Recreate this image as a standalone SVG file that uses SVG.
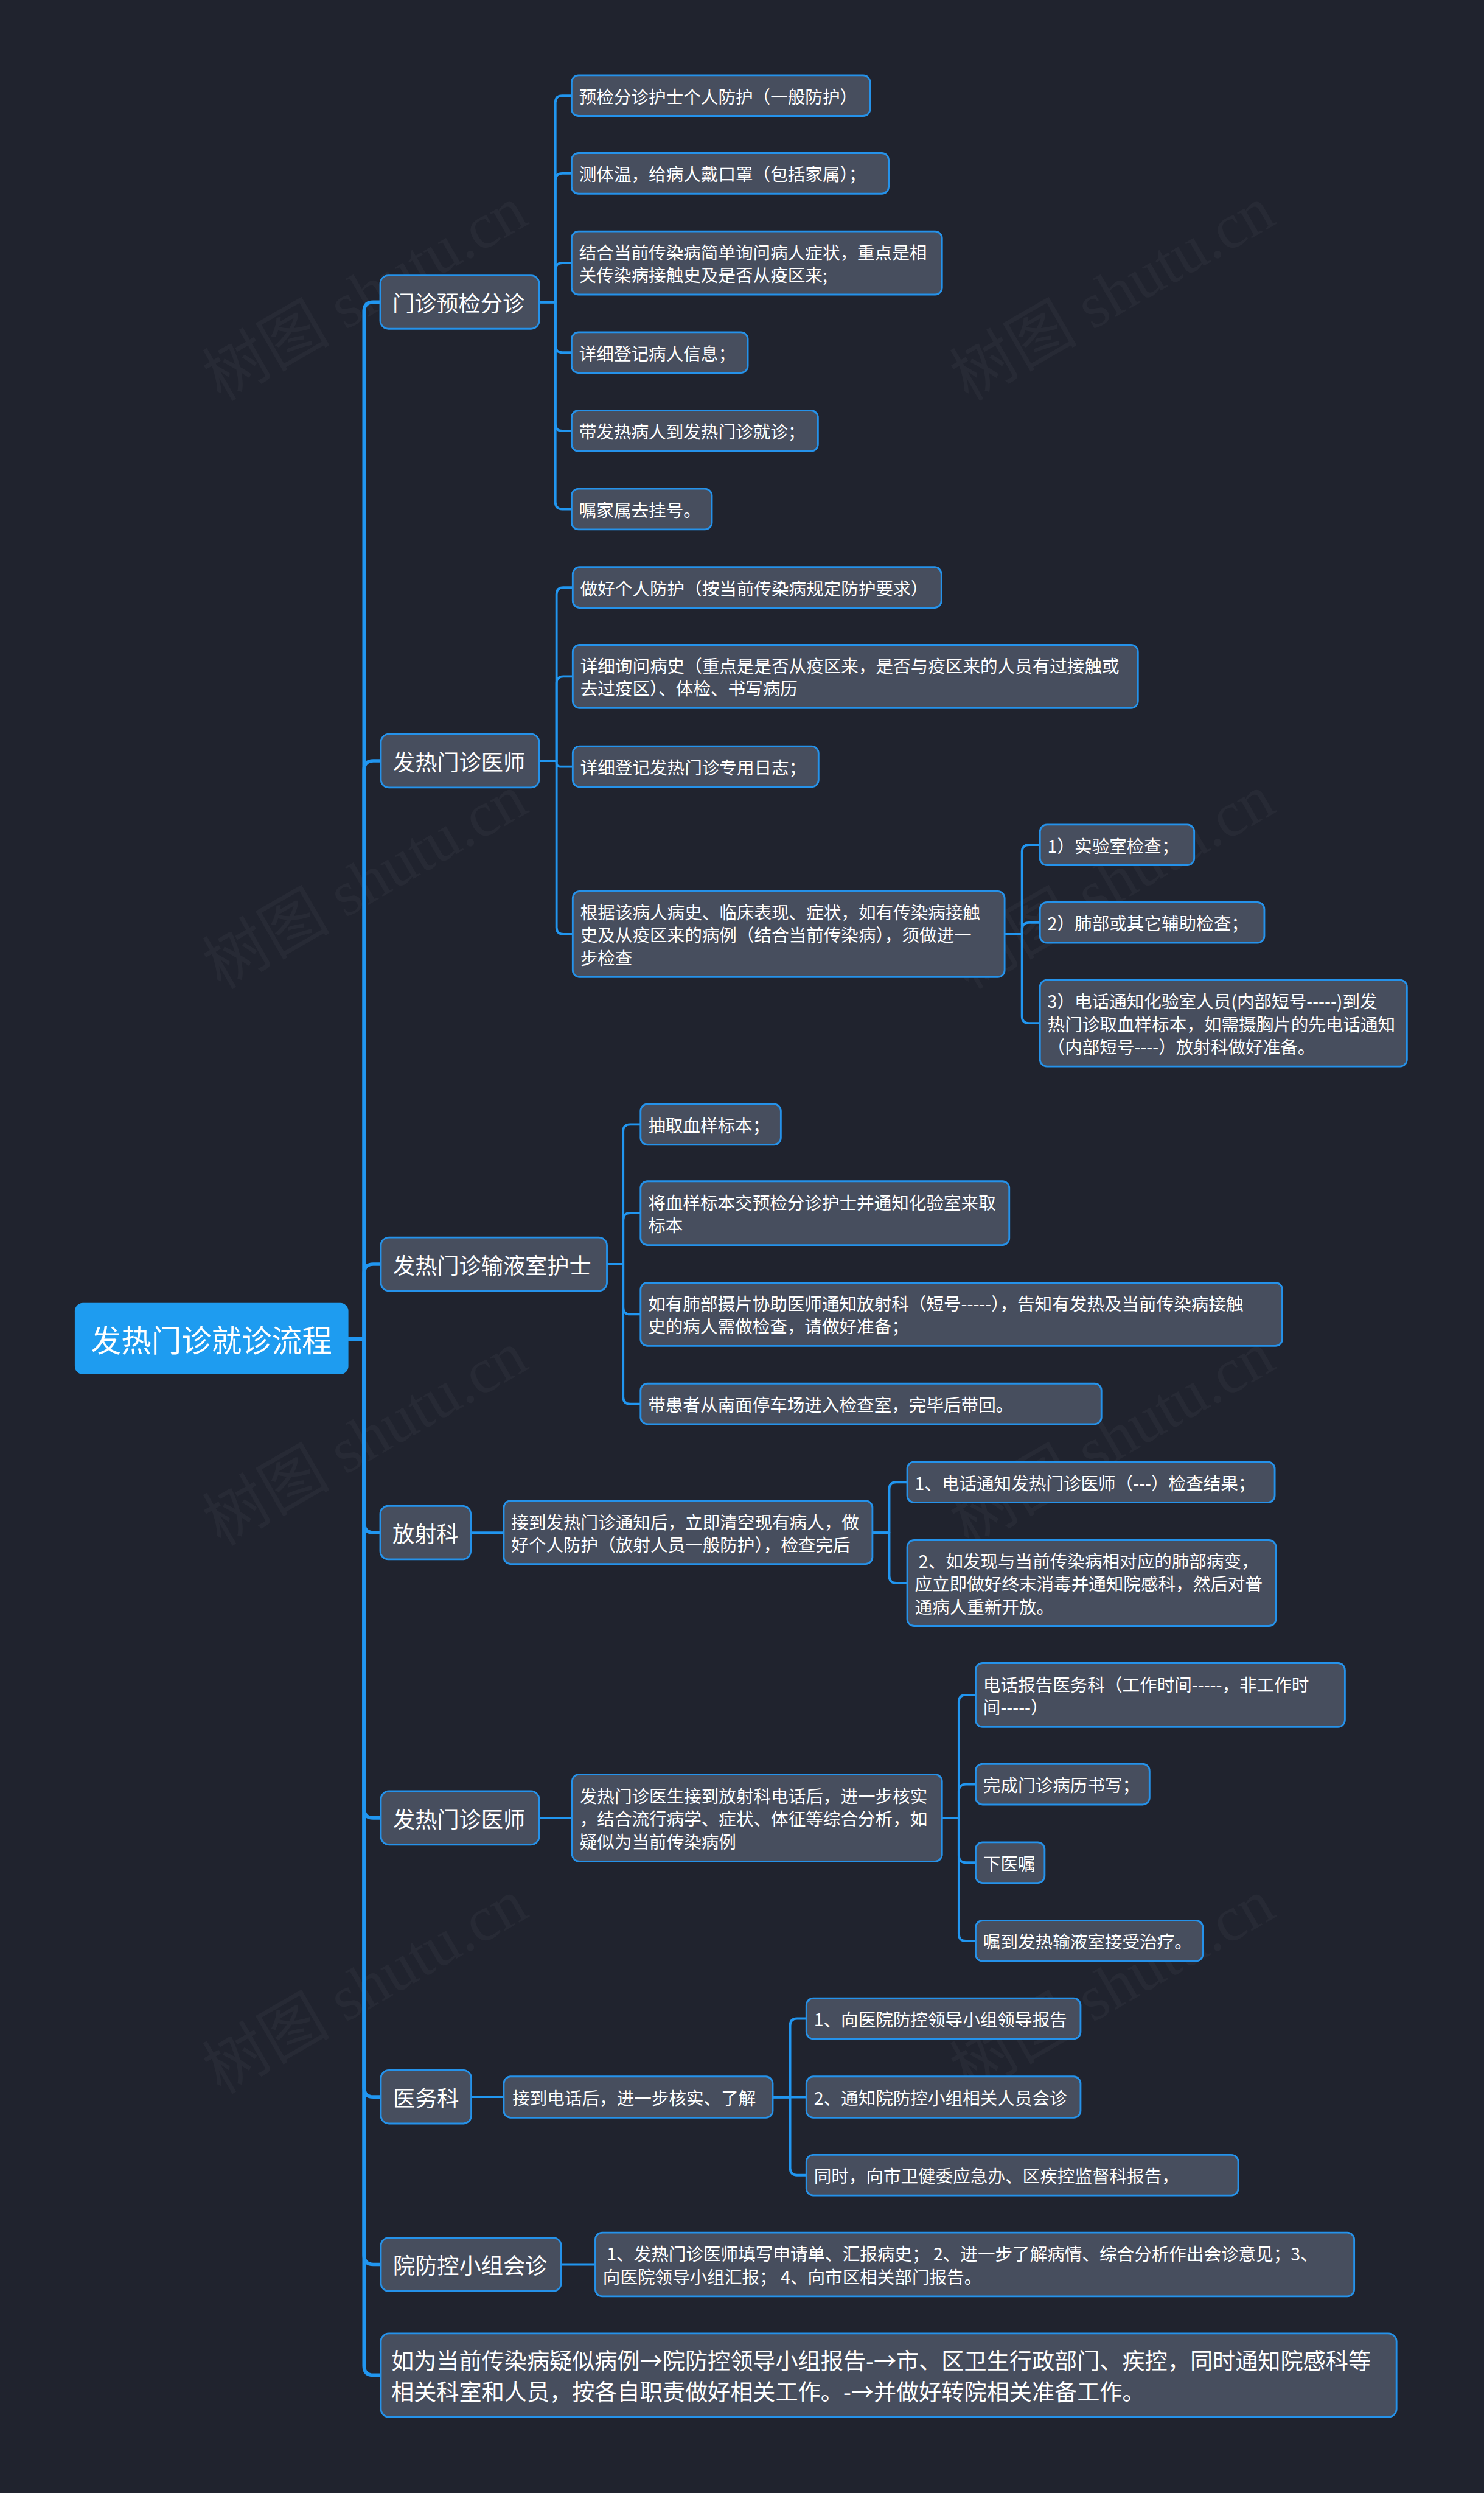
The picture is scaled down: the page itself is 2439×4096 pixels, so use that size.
<svg xmlns="http://www.w3.org/2000/svg" width="2439" height="4096" viewBox="0 0 2439 4096">
<style>
text{font-family:"Noto Sans CJK SC","Noto Sans",sans-serif;fill:#ffffff;dominant-baseline:central}
.nd rect{fill:#474e5e;stroke:#2592ea;stroke-width:3}
.t1{font-size:38px}
.t2{font-size:30px}
.root rect{fill:#1e9cf0}
.c0{fill:none;stroke:#2196f0;stroke-width:6;stroke-linejoin:round}
.c1{fill:none;stroke:#2196f0;stroke-width:4;stroke-linejoin:round}
.wm{font-family:"Liberation Serif","Noto Sans CJK SC",serif;font-size:110px;fill:#ffffff;fill-opacity:0.035;text-anchor:middle}
</style>
<rect x="0" y="0" width="2439" height="4096" fill="#20232e"/>
<g transform="scale(0.95275)">
<g id="watermarks">
<text class="wm" transform="translate(630,507) rotate(-30)">树图 shutu.cn</text>
<text class="wm" transform="translate(1919,507) rotate(-30)">树图 shutu.cn</text>
<text class="wm" transform="translate(630,1521) rotate(-30)">树图 shutu.cn</text>
<text class="wm" transform="translate(1919,1521) rotate(-30)">树图 shutu.cn</text>
<text class="wm" transform="translate(630,2481) rotate(-30)">树图 shutu.cn</text>
<text class="wm" transform="translate(1919,2481) rotate(-30)">树图 shutu.cn</text>
<text class="wm" transform="translate(630,3426) rotate(-30)">树图 shutu.cn</text>
<text class="wm" transform="translate(1919,3426) rotate(-30)">树图 shutu.cn</text>
</g>
<g id="connectors">
<path class="c0" d="M601 2309 H628 V537 Q628 521 644 521 H656"/>
<path class="c0" d="M601 2309 H628 V1328 Q628 1312 644 1312 H657"/>
<path class="c0" d="M601 2309 H628 V2196 Q628 2180 644 2180 H657"/>
<path class="c0" d="M601 2309 H628 V2627 Q628 2643 644 2643 H656"/>
<path class="c0" d="M601 2309 H628 V3119 Q628 3135 644 3135 H657"/>
<path class="c0" d="M601 2309 H628 V3600 Q628 3616 644 3616 H657"/>
<path class="c0" d="M601 2309 H628 V3889 Q628 3905 644 3905 H657"/>
<path class="c0" d="M601 2309 H628 V4080 Q628 4096 644 4096 H657"/>
<path class="c1" d="M930 521 H958 V177 Q958 165 970 165 H986"/>
<path class="c1" d="M930 521 H958 V311 Q958 299 970 299 H986"/>
<path class="c1" d="M930 521 H958 V465.5 Q958 453.5 970 453.5 H986"/>
<path class="c1" d="M930 521 H958 V596 Q958 608 970 608 H986"/>
<path class="c1" d="M930 521 H958 V731 Q958 743 970 743 H986"/>
<path class="c1" d="M930 521 H958 V866 Q958 878 970 878 H986"/>
<path class="c1" d="M930 1312 H960 V1025 Q960 1013 972 1013 H988"/>
<path class="c1" d="M930 1312 H960 V1178.5 Q960 1166.5 972 1166.5 H988"/>
<path class="c1" d="M930 1312 H960 V1316 Q960 1322 966 1322 H988"/>
<path class="c1" d="M930 1312 H960 V1599 Q960 1611 972 1611 H988"/>
<path class="c1" d="M1733 1611 H1763 V1469 Q1763 1457 1775 1457 H1794"/>
<path class="c1" d="M1733 1611 H1763 V1603 Q1763 1591 1775 1591 H1794"/>
<path class="c1" d="M1733 1611 H1763 V1752.5 Q1763 1764.5 1775 1764.5 H1794"/>
<path class="c1" d="M1047 2180 H1075 V1951 Q1075 1939 1087 1939 H1105"/>
<path class="c1" d="M1047 2180 H1075 V2104 Q1075 2092 1087 2092 H1105"/>
<path class="c1" d="M1047 2180 H1075 V2254.5 Q1075 2266.5 1087 2266.5 H1105"/>
<path class="c1" d="M1047 2180 H1075 V2409 Q1075 2421 1087 2421 H1105"/>
<path class="c1" d="M812 2643 H869"/>
<path class="c1" d="M1505 2643 H1534 V2568 Q1534 2556 1546 2556 H1565"/>
<path class="c1" d="M1505 2643 H1534 V2718 Q1534 2730 1546 2730 H1565"/>
<path class="c1" d="M930 3135 H987"/>
<path class="c1" d="M1625 3135 H1654 V2935 Q1654 2923 1666 2923 H1683"/>
<path class="c1" d="M1625 3135 H1654 V3089 Q1654 3077 1666 3077 H1683"/>
<path class="c1" d="M1625 3135 H1654 V3200 Q1654 3212 1666 3212 H1683"/>
<path class="c1" d="M1625 3135 H1654 V3335 Q1654 3347 1666 3347 H1683"/>
<path class="c1" d="M813 3616 H869"/>
<path class="c1" d="M1333 3616.5 H1363 V3493 Q1363 3481 1375 3481 H1391"/>
<path class="c1" d="M1333 3616.5 H1391"/>
<path class="c1" d="M1333 3616.5 H1363 V3739 Q1363 3751 1375 3751 H1391"/>
<path class="c1" d="M968 3905 H1027"/>
</g>
<g id="root" class="root"><rect x="129" y="2247" width="472" height="123" rx="14"/><text x="365" y="2309" font-size="52" text-anchor="middle">发热门诊就诊流程</text></g>

<g id="nA" class="nd"><rect x="656" y="475" width="274" height="92" rx="14"/><text class="t1" x="677" y="521">门诊预检分诊</text></g>
<g id="nA1" class="nd"><rect x="986" y="130" width="515" height="70" rx="12"/><text class="t2" x="999" y="165">预检分诊护士个人防护（一般防护）</text></g>
<g id="nA2" class="nd"><rect x="986" y="264" width="547" height="70" rx="12"/><text class="t2" x="999" y="299">测体温，给病人戴口罩（包括家属）；</text></g>
<g id="nA3" class="nd"><rect x="986" y="399" width="639" height="109" rx="12"/><text class="t2" x="999" y="434">结合当前传染病简单询问病人症状，重点是相</text><text class="t2" x="999" y="473">关传染病接触史及是否从疫区来;</text></g>
<g id="nA4" class="nd"><rect x="986" y="573" width="304" height="70" rx="12"/><text class="t2" x="999" y="608">详细登记病人信息；</text></g>
<g id="nA5" class="nd"><rect x="986" y="708" width="425" height="70" rx="12"/><text class="t2" x="999" y="743">带发热病人到发热门诊就诊；</text></g>
<g id="nA6" class="nd"><rect x="986" y="843" width="242" height="70" rx="12"/><text class="t2" x="999" y="878">嘱家属去挂号。</text></g>

<g id="nB" class="nd"><rect x="657" y="1266" width="273" height="92" rx="14"/><text class="t1" x="678" y="1312">发热门诊医师</text></g>
<g id="nB1" class="nd"><rect x="988" y="978" width="636" height="70" rx="12"/><text class="t2" x="1001" y="1013">做好个人防护（按当前传染病规定防护要求）</text></g>
<g id="nB2" class="nd"><rect x="988" y="1112" width="975" height="109" rx="12"/><text class="t2" x="1001" y="1147">详细询问病史（重点是是否从疫区来，是否与疫区来的人员有过接触或</text><text class="t2" x="1001" y="1186">去过疫区）、体检、书写病历</text></g>
<g id="nB3" class="nd"><rect x="988" y="1287" width="424" height="70" rx="12"/><text class="t2" x="1001" y="1322">详细登记发热门诊专用日志；</text></g>
<g id="nB4" class="nd"><rect x="988" y="1537" width="745" height="148" rx="12"/><text class="t2" x="1001" y="1572">根据该病人病史、临床表现、症状，如有传染病接触</text><text class="t2" x="1001" y="1611">史及从疫区来的病例（结合当前传染病），须做进一</text><text class="t2" x="1001" y="1650">步检查</text></g>
<g id="nB4a" class="nd"><rect x="1794" y="1422" width="266" height="70" rx="12"/><text class="t2" x="1807" y="1457">1）实验室检查；</text></g>
<g id="nB4b" class="nd"><rect x="1794" y="1556" width="387" height="70" rx="12"/><text class="t2" x="1807" y="1591">2）肺部或其它辅助检查；</text></g>
<g id="nB4c" class="nd"><rect x="1794" y="1690" width="633" height="149" rx="12"/><text class="t2" x="1807" y="1725.5">3）电话通知化验室人员(内部短号-----)到发</text><text class="t2" x="1807" y="1764.5">热门诊取血样标本，如需摄胸片的先电话通知</text><text class="t2" x="1807" y="1803.5">（内部短号----）放射科做好准备。</text></g>

<g id="nC" class="nd"><rect x="657" y="2134" width="390" height="92" rx="14"/><text class="t1" x="678" y="2180">发热门诊输液室护士</text></g>
<g id="nC1" class="nd"><rect x="1105" y="1904" width="242" height="70" rx="12"/><text class="t2" x="1118" y="1939">抽取血样标本；</text></g>
<g id="nC2" class="nd"><rect x="1105" y="2037" width="636" height="110" rx="12"/><text class="t2" x="1118" y="2072.5">将血样标本交预检分诊护士并通知化验室来取</text><text class="t2" x="1118" y="2111.5">标本</text></g>
<g id="nC3" class="nd"><rect x="1105" y="2212" width="1107" height="109" rx="12"/><text class="t2" x="1118" y="2247">如有肺部摄片协助医师通知放射科（短号-----），告知有发热及当前传染病接触</text><text class="t2" x="1118" y="2286">史的病人需做检查，请做好准备；</text></g>
<g id="nC4" class="nd"><rect x="1105" y="2386" width="795" height="70" rx="12"/><text class="t2" x="1118" y="2421">带患者从南面停车场进入检查室，完毕后带回。</text></g>

<g id="nD" class="nd"><rect x="656" y="2597" width="156" height="92" rx="14"/><text class="t1" x="677" y="2643">放射科</text></g>
<g id="nD1" class="nd"><rect x="869" y="2588" width="636" height="109" rx="12"/><text class="t2" x="882" y="2623">接到发热门诊通知后，立即清空现有病人，做</text><text class="t2" x="882" y="2662">好个人防护（放射人员一般防护），检查完后</text></g>
<g id="nD1a" class="nd"><rect x="1565" y="2521" width="634" height="70" rx="12"/><text class="t2" x="1578" y="2556">1、电话通知发热门诊医师（---）检查结果；</text></g>
<g id="nD1b" class="nd"><rect x="1565" y="2656" width="636" height="148" rx="12"/><text class="t2" x="1578" y="2691" xml:space="preserve"> 2、如发现与当前传染病相对应的肺部病变，</text><text class="t2" x="1578" y="2730">应立即做好终末消毒并通知院感科，然后对普</text><text class="t2" x="1578" y="2769">通病人重新开放。</text></g>

<g id="nE" class="nd"><rect x="657" y="3089" width="273" height="92" rx="14"/><text class="t1" x="678" y="3135">发热门诊医师</text></g>
<g id="nE1" class="nd"><rect x="987" y="3060" width="638" height="150" rx="12"/><text class="t2" x="1000" y="3096">发热门诊医生接到放射科电话后，进一步核实</text><text class="t2" x="1000" y="3135">，结合流行病学、症状、体征等综合分析，如</text><text class="t2" x="1000" y="3174">疑似为当前传染病例</text></g>
<g id="nE1a" class="nd"><rect x="1683" y="2868" width="637" height="110" rx="12"/><text class="t2" x="1696" y="2903.5">电话报告医务科（工作时间-----，非工作时</text><text class="t2" x="1696" y="2942.5">间-----）</text></g>
<g id="nE1b" class="nd"><rect x="1683" y="3042" width="300" height="70" rx="12"/><text class="t2" x="1696" y="3077">完成门诊病历书写；</text></g>
<g id="nE1c" class="nd"><rect x="1683" y="3177" width="119" height="70" rx="12"/><text class="t2" x="1696" y="3212">下医嘱</text></g>
<g id="nE1d" class="nd"><rect x="1683" y="3312" width="392" height="70" rx="12"/><text class="t2" x="1696" y="3347">嘱到发热输液室接受治疗。</text></g>

<g id="nF" class="nd"><rect x="657" y="3570" width="156" height="92" rx="14"/><text class="t1" x="678" y="3616">医务科</text></g>
<g id="nF1" class="nd"><rect x="869" y="3581" width="464" height="71" rx="12"/><text class="t2" x="884" y="3616.5">接到电话后，进一步核实、了解</text></g>
<g id="nF1a" class="nd"><rect x="1391" y="3446" width="473" height="70" rx="12"/><text class="t2" x="1404" y="3481">1、向医院防控领导小组领导报告</text></g>
<g id="nF1b" class="nd"><rect x="1391" y="3581" width="473" height="71" rx="12"/><text class="t2" x="1404" y="3616.5">2、通知院防控小组相关人员会诊</text></g>
<g id="nF1c" class="nd"><rect x="1391" y="3716" width="745" height="70" rx="12"/><text class="t2" x="1404" y="3751">同时，向市卫健委应急办、区疾控监督科报告，</text></g>

<g id="nG" class="nd"><rect x="657" y="3859" width="311" height="92" rx="14"/><text class="t1" x="678" y="3905">院防控小组会诊</text></g>
<g id="nG1" class="nd"><rect x="1027" y="3850" width="1309" height="110" rx="12"/><text class="t2" x="1040" y="3885.5" xml:space="preserve"> 1、发热门诊医师填写申请单、汇报病史； 2、进一步了解病情、综合分析作出会诊意见；3、</text><text class="t2" x="1040" y="3924.5" xml:space="preserve">向医院领导小组汇报； 4、向市区相关部门报告。</text></g>

<g id="nH" class="nd"><rect x="657" y="4024" width="1752" height="144" rx="14"/><text x="675" y="4069.5" font-size="39">如为当前传染病疑似病例→院防控领导小组报告-→市、区卫生行政部门、疾控，同时通知院感科等</text><text x="675" y="4122.5" font-size="39">相关科室和人员，按各自职责做好相关工作。-→并做好转院相关准备工作。</text></g>
</g>
</svg>
